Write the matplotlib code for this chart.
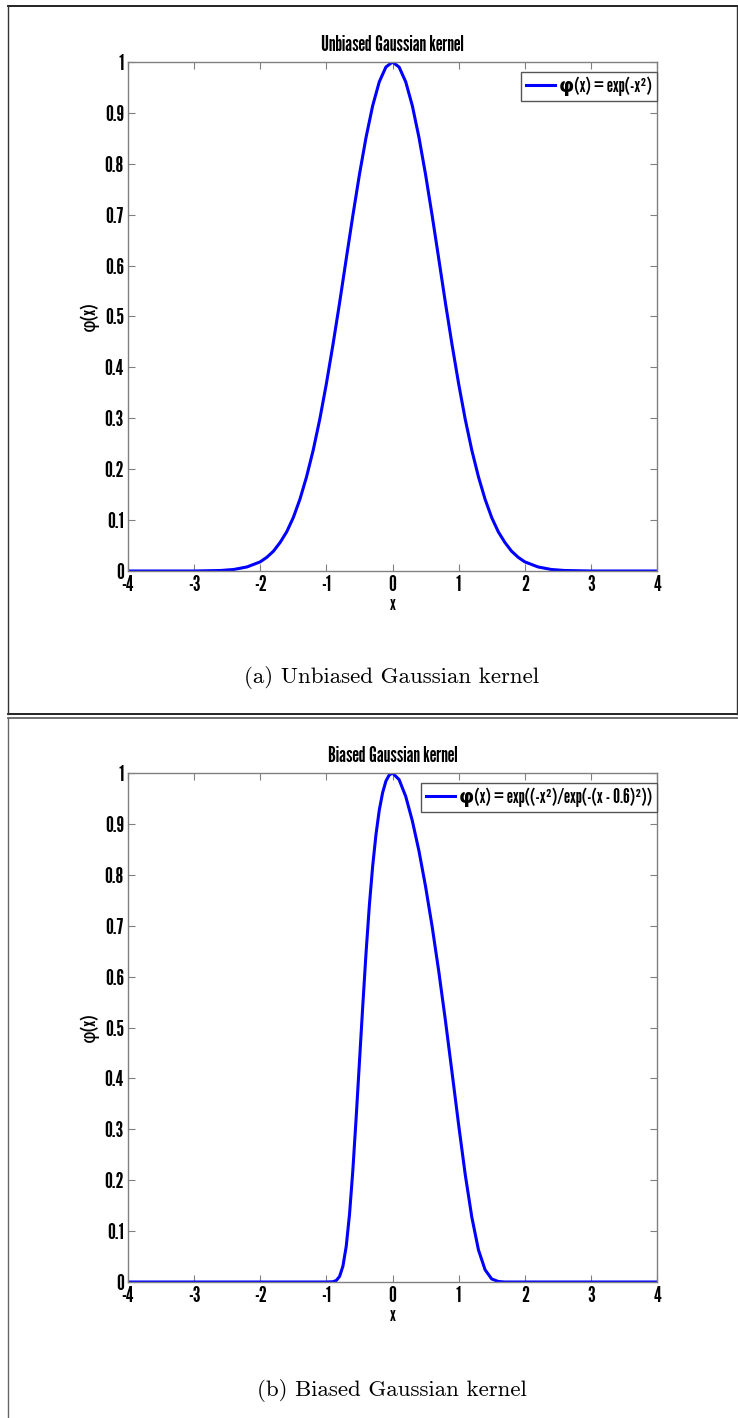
import matplotlib
matplotlib.use("Agg")
import matplotlib.pyplot as plt
from matplotlib.lines import Line2D

# values
x_unbiased = [-4.0, -3.0, -2.6, -2.4, -2.2, -2.0, -1.9, -1.8, -1.7, -1.6, -1.5, -1.4, -1.3,
              -1.2, -1.1, -1.0, -0.9, -0.8, -0.7, -0.6, -0.5, -0.4, -0.3, -0.2, -0.1, 0.0,
              0.1, 0.2, 0.3, 0.4, 0.5, 0.6, 0.7, 0.8, 0.9, 1.0, 1.1, 1.2, 1.3, 1.4, 1.5,
              1.6, 1.7, 1.8, 1.9, 2.0, 2.2, 2.4, 2.6, 3.0, 4.0]
y_unbiased = [0.0, 0.0, 0.001, 0.003, 0.008, 0.018, 0.027, 0.039, 0.056, 0.077, 0.105, 0.141, 0.185,
              0.237, 0.298, 0.368, 0.445, 0.527, 0.613, 0.698, 0.779, 0.852, 0.914, 0.961, 0.990, 1.0,
              0.990, 0.961, 0.914, 0.852, 0.779, 0.698, 0.613, 0.527, 0.445, 0.368, 0.298, 0.237, 0.185, 0.141, 0.105,
              0.077, 0.056, 0.039, 0.027, 0.018, 0.008, 0.003, 0.001, 0.0, 0.0]

x_biased = [-4.0, -1.0, -0.9, -0.85, -0.8, -0.75, -0.7, -0.65, -0.6, -0.55, -0.5, -0.45, -0.4, -0.35,
            -0.3, -0.25, -0.2, -0.15, -0.1, -0.05, 0.0, 0.1, 0.2, 0.3, 0.4, 0.5, 0.6, 0.7, 0.8,
            0.9, 1.0, 1.1, 1.2, 1.3, 1.4, 1.5, 1.6, 1.7, 4.0]
y_biased = [0.0, 0.0, 0.0005, 0.003, 0.011, 0.031, 0.070, 0.133, 0.219, 0.322, 0.432, 0.542, 0.647, 0.740,
            0.817, 0.879, 0.927, 0.961, 0.984, 0.996, 1.0, 0.987, 0.954, 0.906, 0.847, 0.777, 0.698, 0.610, 0.514,
            0.412, 0.309, 0.211, 0.127, 0.063, 0.024, 0.006, 0.001, 0.0, 0.0]

x_ticks = [-4, -3, -2, -1, 0, 1, 2, 3, 4]
x_ticklabels = ["-4", "-3", "-2", "-1", "0", "1", "2", "3", "4"]
y_ticks = [0, 0.1, 0.2, 0.3, 0.4, 0.5, 0.6, 0.7, 0.8, 0.9, 1]
y_ticklabels = ["0", "0.1", "0.2", "0.3", "0.4", "0.5", "0.6", "0.7", "0.8", "0.9", "1"]

titles = ["Unbiased Gaussian kernel", "Biased Gaussian kernel"]
legend_labels = ["\u03c6(x) = exp(-x\u00b2)", "\u03c6(x) = exp((-x\u00b2)/exp(-(x - 0.6)\u00b2))"]
captions = ["(a) Unbiased Gaussian kernel", "(b) Biased Gaussian kernel"]

FONT = "League Gothic"
plt.rcParams["font.family"] = [FONT, "DejaVu Sans"]
plt.rcParams["font.weight"] = "bold"

W, H = 738, 1418
fig = plt.figure(figsize=(W / 100, H / 100), dpi=100)

def fx(px):
    return px / W

def fy(py):
    return 1 - py / H

spine_col = "#808080"

# top panel axes: 62..571 px, bottom panel: 773..1282 px
axes_tops = [62, 773]
curves = [(x_unbiased, y_unbiased), (x_biased, y_biased)]
caption_y = [678, 1390]

for i in range(2):
    top = axes_tops[i]
    ax = fig.add_axes([fx(128), fy(top + 509), fx(657) - fx(128), 509 / H])
    xs, ys = curves[i]
    ax.plot(xs, ys, color="#0000ff", lw=2.2, label=legend_labels[i])
    ax.set_xlim(-4, 4)
    ax.set_ylim(0, 1)
    ax.set_xticks(x_ticks)
    ax.set_xticklabels(x_ticklabels)
    ax.set_yticks(y_ticks)
    ax.set_yticklabels(y_ticklabels)
    ax.tick_params(direction="in", length=5, width=0.8, color=spine_col,
                   top=True, right=True, labelsize=16, pad=3)
    for s in ax.spines.values():
        s.set_color(spine_col)
        s.set_linewidth(1.0)
    ax.set_title(titles[i], fontsize=15.5, fontweight="bold", pad=8)
    ax.set_xlabel("x", fontsize=14, labelpad=0)
    ax.set_ylabel("\u03c6(x)", fontsize=14, labelpad=4)
    leg = ax.legend(loc="upper right", bbox_to_anchor=(1, 1 - 10 / 509), borderaxespad=0,
                    fontsize=14, fancybox=False, framealpha=1, handlelength=1.5,
                    handletextpad=0.2, borderpad=0.25)
    leg.get_frame().set_edgecolor("#555555")
    leg.get_frame().set_linewidth(1.0)
    fig.text(fx(392), fy(caption_y[i]), captions[i], family="cmr10", fontweight="normal",
             fontsize=16.5, ha="center", va="center")

# panel borders
def hline(x0, x1, y, color, lw):
    fig.add_artist(Line2D([fx(x0), fx(x1)], [fy(y), fy(y)], color=color, lw=lw,
                          transform=fig.transFigure))

def vline(x, y0, y1, color, lw):
    fig.add_artist(Line2D([fx(x), fx(x)], [fy(y0), fy(y1)], color=color, lw=lw,
                          transform=fig.transFigure))

hline(8, 738, 6, "#111111", 1.3)
hline(8, 738, 714, "#111111", 1.3)
vline(8, 6, 714, "#333333", 1.0)
vline(737, 6, 714, "#333333", 1.0)
hline(8, 738, 718, "#666666", 1.3)
vline(8, 718, 1418, "#666666", 1.0)

plt.savefig("out.png", dpi=100)
